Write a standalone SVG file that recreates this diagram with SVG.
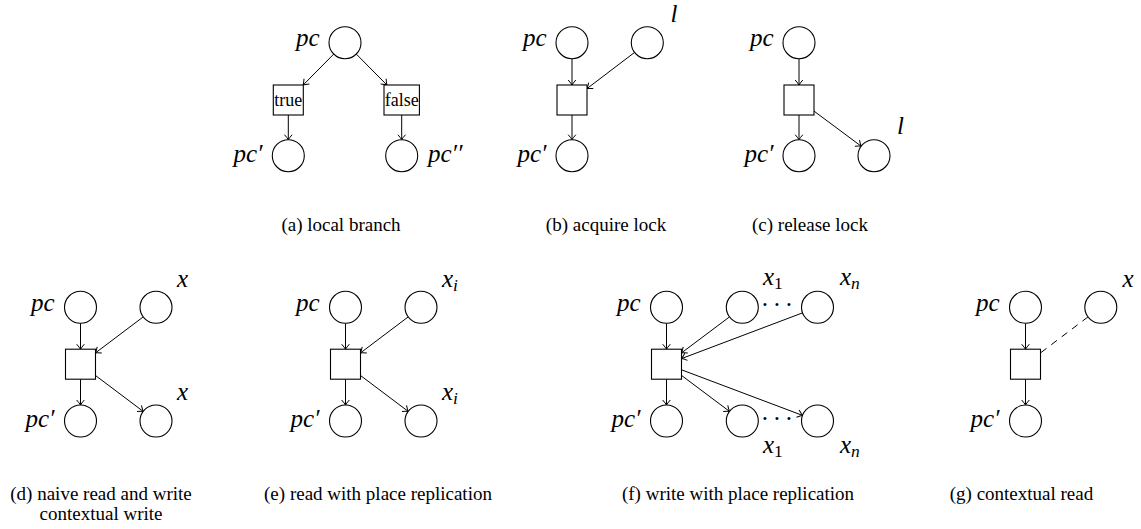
<svg xmlns="http://www.w3.org/2000/svg" width="1141" height="529" viewBox="0 0 1141 529" font-family="'Liberation Serif', 'Times New Roman', Times, 'DejaVu Serif', serif">
<defs>
<style>
text{font-family:'Liberation Serif','Times New Roman',Times,'DejaVu Serif',serif}
.place{fill:#fff;stroke:#000;stroke-width:1.1}
.trans{fill:#fff;stroke:#000;stroke-width:1.1}
.arc{fill:none;stroke:#000;stroke-width:1;marker-end:url(#arr)}
.rd{fill:none;stroke:#000;stroke-width:1;stroke-dasharray:7 6}
.lbl{font-style:italic;font-size:25px;fill:#000}
.end{text-anchor:end}
.sub{font-size:17.5px}
.rom{font-style:normal}
.tt{font-size:18px;text-anchor:middle;fill:#000}
.cap{font-size:19px;text-anchor:middle;fill:#000}
.dots{font-size:25px;text-anchor:middle;fill:#000}
</style>
<marker id="arr" viewBox="-6 -5 8 10" refX="0" refY="0" markerWidth="8" markerHeight="10" markerUnits="userSpaceOnUse" orient="auto" overflow="visible">
<path d="M-5,-3.8 Q-1.6,-0.9 0,0 Q-1.6,0.9 -5,3.8" fill="none" stroke="#000" stroke-width="1"/>
</marker>
</defs>
<rect width="1141" height="529" fill="#fff"/>

<g id="connectors">
<line class="arc" x1="333.7" y1="54.1" x2="303.2" y2="85"/>
<line class="arc" x1="356.3" y1="54.1" x2="386.9" y2="85"/>
<line class="arc" x1="288.3" y1="115" x2="288.3" y2="139.7"/>
<line class="arc" x1="401.7" y1="115" x2="401.7" y2="139.7"/>
<line class="arc" x1="572" y1="58.7" x2="572" y2="85"/>
<line class="arc" x1="634.6" y1="52.4" x2="587" y2="88.6"/>
<line class="arc" x1="572" y1="115" x2="572" y2="139.7"/>
<line class="arc" x1="799" y1="58.7" x2="799" y2="85"/>
<line class="arc" x1="799" y1="115" x2="799" y2="139.7"/>
<line class="arc" x1="814" y1="111.1" x2="861.2" y2="146.2"/>
<line class="arc" x1="80.5" y1="323.3" x2="80.5" y2="349.2"/>
<line class="arc" x1="143.2" y1="316.9" x2="95.5" y2="352.9"/>
<line class="arc" x1="80.5" y1="379.2" x2="80.5" y2="405"/>
<line class="arc" x1="95.5" y1="375.5" x2="143.2" y2="411.4"/>
<line class="arc" x1="345.5" y1="323.3" x2="345.5" y2="349.2"/>
<line class="arc" x1="408.2" y1="316.9" x2="360.5" y2="352.9"/>
<line class="arc" x1="345.5" y1="379.2" x2="345.5" y2="405"/>
<line class="arc" x1="360.5" y1="375.5" x2="408.2" y2="411.4"/>
<line class="arc" x1="666.5" y1="323.3" x2="666.5" y2="349.2"/>
<line class="arc" x1="729.5" y1="316.9" x2="681.5" y2="352.9"/>
<line class="arc" x1="802.5" y1="312.9" x2="681.5" y2="358.6"/>
<line class="arc" x1="666.5" y1="379.2" x2="666.5" y2="405"/>
<line class="arc" x1="681.5" y1="375.4" x2="729.5" y2="411.4"/>
<line class="arc" x1="681.5" y1="369.8" x2="802.5" y2="415.4"/>
<line class="arc" x1="1025.5" y1="323.3" x2="1025.5" y2="349.2"/>
<line class="rd" x1="1088" y1="316.9" x2="1040.5" y2="352.9"/>
<line class="arc" x1="1025.5" y1="379.2" x2="1025.5" y2="405"/>
</g>

<g id="a-pc"><circle class="place" cx="345" cy="42.7" r="16"/><text class="lbl end" x="319.5" y="45.7">pc</text></g>
<g id="a-true"><rect class="trans" x="273.3" y="85" width="30" height="30"/><text class="tt" x="288.3" y="106">true</text></g>
<g id="a-false"><rect class="trans" x="384" y="85" width="35.4" height="30"/><text class="tt" x="401.7" y="106">false</text></g>
<g id="a-pc1"><circle class="place" cx="288.3" cy="155.7" r="16"/><text class="lbl end" x="262.5" y="162">pc′</text></g>
<g id="a-pc2"><circle class="place" cx="401.7" cy="155.7" r="16"/><text class="lbl" x="428" y="162">pc′′</text></g>

<g id="b-pc"><circle class="place" cx="572" cy="42.7" r="16"/><text class="lbl end" x="546.5" y="45.7">pc</text></g>
<g id="b-l"><circle class="place" cx="647.3" cy="42.7" r="16"/><text class="lbl" x="670.5" y="21.7">l</text></g>
<g id="b-t"><rect class="trans" x="557" y="85" width="30" height="30"/></g>
<g id="b-pc1"><circle class="place" cx="572" cy="155.7" r="16"/><text class="lbl end" x="546.5" y="162">pc′</text></g>

<g id="c-pc"><circle class="place" cx="799" cy="42.7" r="16"/><text class="lbl end" x="773.5" y="45.7">pc</text></g>
<g id="c-t"><rect class="trans" x="784" y="85" width="30" height="30"/></g>
<g id="c-pc1"><circle class="place" cx="799" cy="155.7" r="16"/><text class="lbl end" x="773.5" y="162">pc′</text></g>
<g id="c-l"><circle class="place" cx="874" cy="155.7" r="16"/><text class="lbl" x="897" y="134">l</text></g>

<g id="d-pc"><circle class="place" cx="80.5" cy="307.3" r="16"/><text class="lbl end" x="54.5" y="310.5">pc</text></g>
<g id="d-x"><circle class="place" cx="156" cy="307.3" r="16"/><text class="lbl" x="177" y="287">x</text></g>
<g id="d-t"><rect class="trans" x="65.5" y="349.2" width="30" height="30"/></g>
<g id="d-pc1"><circle class="place" cx="80.5" cy="421" r="16"/><text class="lbl end" x="54.5" y="427">pc′</text></g>
<g id="d-xo"><circle class="place" cx="156" cy="421" r="16"/><text class="lbl" x="177" y="400">x</text></g>

<g id="e-pc"><circle class="place" cx="345.5" cy="307.3" r="16"/><text class="lbl end" x="319.5" y="310.5">pc</text></g>
<g id="e-x"><circle class="place" cx="421" cy="307.3" r="16"/><text class="lbl" x="442" y="287">x<tspan class="sub" dy="4">i</tspan></text></g>
<g id="e-t"><rect class="trans" x="330.5" y="349.2" width="30" height="30"/></g>
<g id="e-pc1"><circle class="place" cx="345.5" cy="421" r="16"/><text class="lbl end" x="319.5" y="427">pc′</text></g>
<g id="e-xo"><circle class="place" cx="421" cy="421" r="16"/><text class="lbl" x="442" y="400">x<tspan class="sub" dy="4">i</tspan></text></g>

<g id="f-pc"><circle class="place" cx="666.5" cy="307.3" r="16"/><text class="lbl end" x="640.5" y="310.5">pc</text></g>
<g id="f-x1"><circle class="place" cx="742.3" cy="307.3" r="16"/><text class="lbl" x="763" y="285">x<tspan class="sub rom" dy="4">1</tspan></text></g>
<g id="f-dots-top"><text class="dots" x="765 777 789" y="313.3">···</text></g>
<g id="f-xn"><circle class="place" cx="817.5" cy="307.3" r="16"/><text class="lbl" x="840" y="285">x<tspan class="sub" dy="4">n</tspan></text></g>
<g id="f-t"><rect class="trans" x="651.5" y="349.2" width="30" height="30"/></g>
<g id="f-pc1"><circle class="place" cx="666.5" cy="421" r="16"/><text class="lbl end" x="640.5" y="427">pc′</text></g>
<g id="f-x1o"><circle class="place" cx="742.3" cy="421" r="16"/><text class="lbl" x="763" y="453">x<tspan class="sub rom" dy="4">1</tspan></text></g>
<g id="f-dots-bot"><text class="dots" x="765 777 789" y="427">···</text></g>
<g id="f-xno"><circle class="place" cx="817.5" cy="421" r="16"/><text class="lbl" x="840" y="453">x<tspan class="sub" dy="4">n</tspan></text></g>

<g id="g-pc"><circle class="place" cx="1025.5" cy="307.3" r="16"/><text class="lbl end" x="999.5" y="310.5">pc</text></g>
<g id="g-x"><circle class="place" cx="1100.8" cy="307.3" r="16"/><text class="lbl" x="1122.5" y="287">x</text></g>
<g id="g-t"><rect class="trans" x="1010.5" y="349.2" width="30" height="30"/></g>
<g id="g-pc1"><circle class="place" cx="1025.5" cy="421" r="16"/><text class="lbl end" x="999.5" y="427">pc′</text></g>

<g id="captions">
<text class="cap" x="341" y="231">(a) local branch</text>
<text class="cap" x="606" y="231">(b) acquire lock</text>
<text class="cap" x="810" y="231">(c) release lock</text>
<text class="cap" x="101" y="500">(d) naive read and write</text>
<text class="cap" x="101" y="520">contextual write</text>
<text class="cap" x="378" y="500">(e) read with place replication</text>
<text class="cap" x="738" y="500">(f) write with place replication</text>
<text class="cap" x="1021.5" y="500">(g) contextual read</text>
</g>
</svg>
